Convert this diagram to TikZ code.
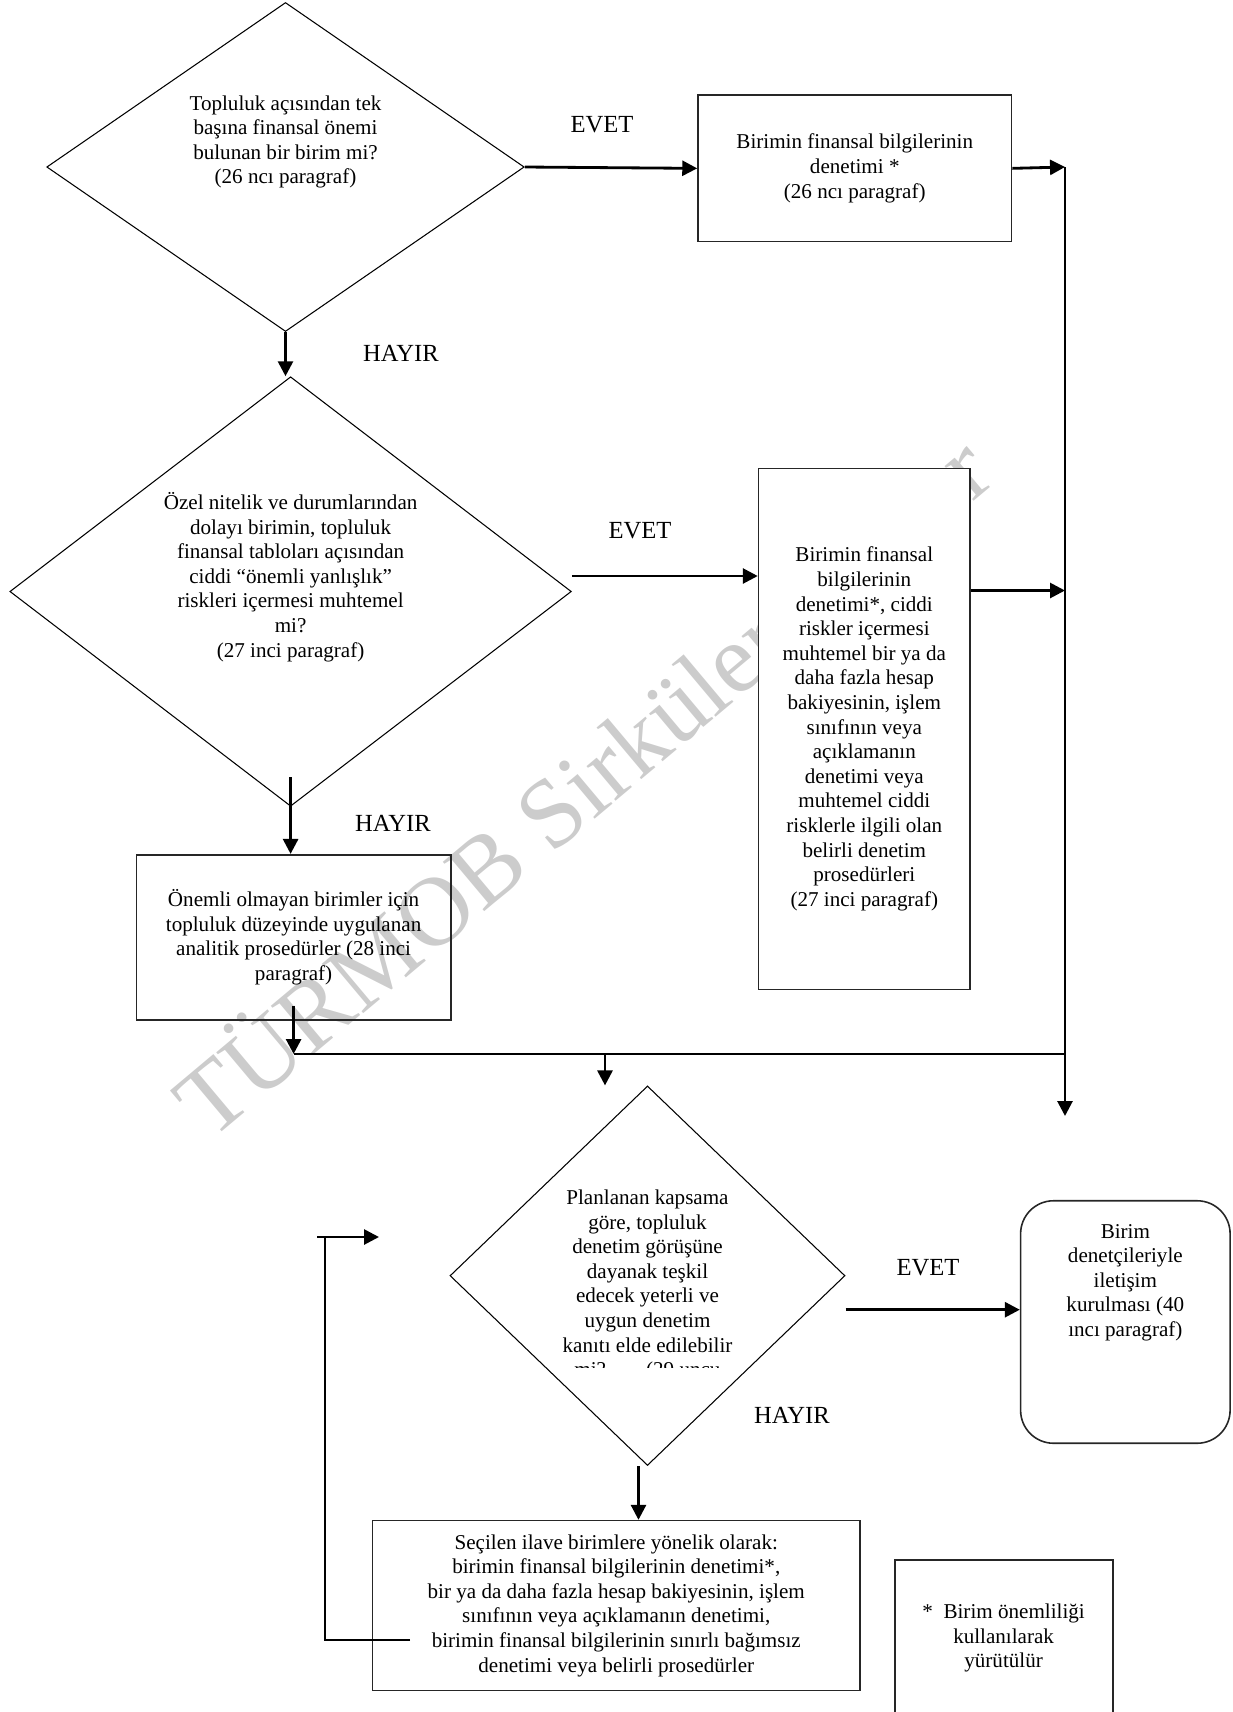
\documentclass[tikz,border=0pt]{standalone}
\usepackage{fontspec}
\setmainfont{Liberation Serif}
\usetikzlibrary{shapes.geometric,arrows.meta}

\begin{document}
\begin{tikzpicture}[x=0.2mm,y=-0.2mm,
	txt/.style={font=\fontsize{12}{14}\selectfont,align=center,inner sep=0pt},
	lbl/.style={font=\fontsize{14}{16}\selectfont,inner sep=0pt},
	dia/.style={draw,diamond,line width=0.6pt,inner sep=0pt},
	box/.style={draw=black!85,line width=0.9pt,rectangle,txt},
	arr/.style={line width=1.6pt,-{Triangle[length=8.5pt,width=8.5pt]}},
	line/.style={line width=1.6pt}]
	\useasboundingbox (0,0) rectangle (1232,1712);
	% Watermark
	\node[rotate=40,anchor=base west,text=black!20,font=\fontsize{56}{58}\selectfont,inner sep=0pt] (wm) at (210,1142) {TÜRMOB Sirküler Rapor};
	% Decisions and boxes
	\node[dia,minimum width=95.5mm,minimum height=65.8mm] (d1) at (285.5,167) {};
	\node[txt] (d1t) at (285.5,142) {Topluluk açısından tek\\başına finansal önemi\\bulunan bir birim mi?\\(26 ncı paragraf)};
	\node[box,minimum width=62.7mm,minimum height=29.3mm] (b1) at (854.75,168.35) {Birimin finansal bilgilerinin\\denetimi *\\(26 ncı paragraf)};
	\node[dia,minimum width=112.3mm,minimum height=85.9mm] (d2) at (290.6,591.5) {};
	\node[txt] (d2t) at (290.6,577) {Özel nitelik ve durumlarından\\dolayı birimin, topluluk\\finansal tabloları açısından\\ciddi “önemli yanlışlık”\\riskleri içermesi muhtemel\\mi?\\(27 inci paragraf)};
	\node[box,fill=white,minimum width=42.3mm,minimum height=104.2mm] (b3) at (864.3,729) {Birimin finansal\\bilgilerinin\\denetimi*, ciddi\\riskler içermesi\\muhtemel bir ya da\\daha fazla hesap\\bakiyesinin, işlem\\sınıfının veya\\açıklamanın\\denetimi veya\\muhtemel ciddi\\risklerle ilgili olan\\belirli denetim\\prosedürleri\\(27 inci paragraf)};
	\node[box,minimum width=62.9mm,minimum height=33mm] (b2) at (293.6,937.2) {Önemli olmayan birimler için\\topluluk düzeyinde uygulanan\\analitik prosedürler (28 inci\\paragraf)};
	\node[dia,minimum width=79mm,minimum height=75.9mm] (d3) at (647.5,1275.7) {};
	\begin{scope}
		\clip (450,1150) rectangle (845,1367);
		\node[txt] (d3t) at (647.5,1285.5) {Planlanan kapsama\\göre, topluluk\\denetim görüşüne\\dayanak teşkil\\edecek yeterli ve\\uygun denetim\\kanıtı elde edilebilir\\mi?\hspace{1.9em}(29 uncu};
	\end{scope}
	\node[draw=black!85,line width=0.9pt,rounded corners=6.6mm,minimum width=41.9mm,minimum height=48.5mm] (rb) at (1125.35,1322) {};
	\node[txt] (rbt) at (1125.35,1282.5) {Birim\\denetçileriyle\\iletişim\\kurulması (40\\ıncı paragraf)};
	\node[box,minimum width=97.5mm,minimum height=34mm] (b4) at (616.25,1605.6) {Seçilen ilave birimlere yönelik olarak:\\birimin finansal bilgilerinin denetimi*,\\bir ya da daha fazla hesap bakiyesinin, işlem\\sınıfının veya açıklamanın denetimi,\\birimin finansal bilgilerinin sınırlı bağımsız\\denetimi veya belirli prosedürler};
	\node[box,minimum width=43.6mm,minimum height=40.1mm] (fn) at (1004,1660) {};
	\node[txt] (fnt) at (1003.6,1638) {*\ \ Birim önemliliği\\kullanılarak\\yürütülür};
	% Free ends of the connectors
	\coordinate (rtop) at (1065,167);
	\coordinate (rbot) at (1065,1116);
	\coordinate (busL) at (294,1054);
	\coordinate (busR) at (1066,1054);
	\coordinate (busM) at (605,1054);
	\coordinate (loopA) at (410,1640);
	\coordinate (loopB) at (325,1640);
	\coordinate (loopC) at (325,1237);
	\coordinate (loopD) at (379,1237);
	% Connectors
	\draw[arr] (d1.east) -- (b1.west);
	\draw[arr] (d1.south) -- (d1.south |- d2.north);
	\draw[arr] (b1.east) -- (rtop);
	\draw[arr] (rtop) -- (rbot);
	\draw[arr] ([yshift=3.1mm]d2.east) -- ([yshift=3.1mm]d2.east -| b3.west);
	\draw[arr] ([yshift=27.7mm]b3.east) -- ([yshift=27.7mm]b3.east -| rtop);
	\draw[arr] ([yshift=5.9mm]d2.south) -- (d2.south |- b2.north);
	\draw[arr] ([yshift=3mm]b2.south) -- (b2.south |- busL);
	\draw[line width=0.9pt] (busL) -- (busR);
	\draw[arr] (busM) -- (busM |- d3.north);
	\draw[arr] ([yshift=-6.8mm]d3.east) -- ([yshift=-6.8mm]d3.east -| rb.west);
	\draw[arr] ([xshift=-1.8mm]d3.south) -- ([xshift=-1.8mm]d3.south |- b4.north);
	\draw[arr] (loopA) -- (loopB) -- (loopC) -- ([xshift=-1.6mm]loopC) -- (loopD);
	% Labels
	\node[lbl] (evet1) at (602,125) {EVET};
	\node[lbl] (hayir1) at (401,353) {HAYIR};
	\node[lbl] (evet2) at (640,531) {EVET};
	\node[lbl] (hayir2) at (393,823) {HAYIR};
	\node[lbl] (evet3) at (928,1268) {EVET};
	\node[lbl] (hayir3) at (792,1415) {HAYIR};
\end{tikzpicture}
\end{document}
